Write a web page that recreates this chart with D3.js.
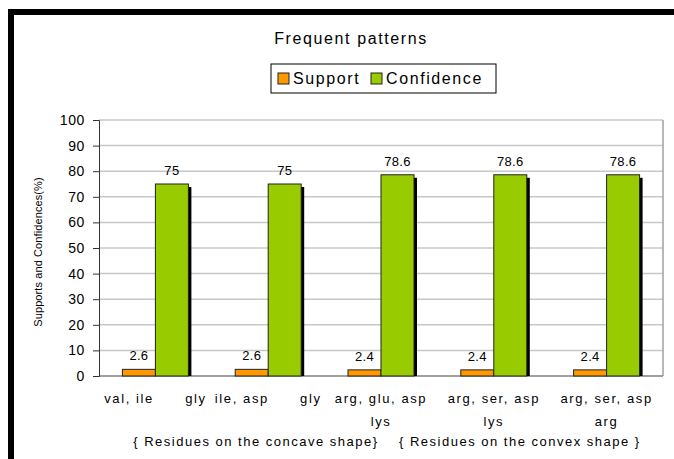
<!DOCTYPE html>
<html>
<head>
<meta charset="utf-8">
<script src="https://cdn.jsdelivr.net/npm/d3@7"></script>
<style>
  html, body { margin: 0; padding: 0; background: #fff; }
  svg text { font-family: "Liberation Sans", Arial, sans-serif; fill: #000; }
</style>
</head>
<body>
<svg id="chart" width="674" height="459"></svg>
<script>
// Frequent residue patterns: support and confidence per rule
const categories = ["p1", "p2", "p3", "p4", "p5"];
const categoryLabels = [
  ["val, ile      gly"],
  ["ile, asp      gly"],
  ["arg, glu, asp", "lys"],
  ["arg, ser, asp", "lys"],
  ["arg, ser, asp", "arg"]
];
const support = [2.6, 2.6, 2.4, 2.4, 2.4];
const confidence = [75, 75, 78.6, 78.6, 78.6];
const seriesNames = ["Support", "Confidence"];
const seriesColors = ["#FF9900", "#99CC00"];
const yTicks = [0, 10, 20, 30, 40, 50, 60, 70, 80, 90, 100];
const chartTitle = "Frequent patterns";
const yTitle = "Supports and Confidences(%)";
const xTitle = "{ Residues on the concave shape}    { Residues on the convex shape }";

const svg = d3.select("#chart");
const plot = { left: 99, right: 663, top: 120, bottom: 376 };

// outer frame (top and left edges)
svg.append("rect").attr("x", 8).attr("y", 9).attr("width", 674 - 8).attr("height", 6).attr("fill", "#000");
svg.append("rect").attr("x", 8).attr("y", 9).attr("width", 6).attr("height", 459 - 9).attr("fill", "#000");

const y = d3.scaleLinear().domain([0, 100]).range([plot.bottom, plot.top]);
const x = d3.scaleBand().domain(categories).range([plot.left, plot.right])
  .paddingInner(0.415).paddingOuter(0.2075);
const xs = d3.scaleBand().domain(seriesNames).range([0, x.bandwidth()]);

// gridlines
svg.append("g").selectAll("line").data(yTicks.filter(d => d > 0)).join("line")
  .attr("x1", plot.left).attr("x2", plot.right)
  .attr("y1", d => y(d)).attr("y2", d => y(d))
  .attr("stroke", "#c8c8c8").attr("stroke-width", 1.5);

// right border and baseline of plot area
svg.append("line").attr("x1", plot.right).attr("x2", plot.right)
  .attr("y1", plot.top).attr("y2", plot.bottom).attr("stroke", "#a0a0a0").attr("stroke-width", 1.5);
svg.append("line").attr("x1", plot.left).attr("x2", plot.right)
  .attr("y1", plot.bottom).attr("y2", plot.bottom).attr("stroke", "#808080").attr("stroke-width", 1.5);

// y axis
const yAxis = d3.axisLeft(y).tickValues(yTicks).tickSize(6).tickPadding(8);
const yg = svg.append("g").attr("transform", `translate(${plot.left},0)`).call(yAxis);
yg.select(".domain").attr("stroke", "#333");
yg.selectAll(".tick line").attr("stroke", "#333");
yg.selectAll(".tick text").attr("font-size", 14).attr("letter-spacing", 0.6)
  .style("font-family", '"Liberation Sans", Arial, sans-serif').attr("fill", "#000");

// bars
const rows = categories.map((c, i) => ({ c, i, vals: [support[i], confidence[i]] }));
const groups = svg.append("g").selectAll("g").data(rows).join("g")
  .attr("transform", d => `translate(${x(d.c)},0)`);

seriesNames.forEach((s, k) => {
  // drop shadow
  groups.append("rect")
    .attr("x", xs(s) + 3).attr("y", d => y(d.vals[k]) + 3)
    .attr("width", xs.bandwidth())
    .attr("height", d => Math.max(0, plot.bottom - y(d.vals[k]) - 3))
    .attr("fill", "#000");
});
seriesNames.forEach((s, k) => {
  groups.append("rect")
    .attr("x", xs(s)).attr("y", d => y(d.vals[k]))
    .attr("width", xs.bandwidth())
    .attr("height", d => plot.bottom - y(d.vals[k]))
    .attr("fill", seriesColors[k]).attr("stroke", "#222").attr("stroke-width", 1);
  groups.append("text")
    .attr("x", xs(s) + xs.bandwidth() / 2).attr("y", d => y(d.vals[k]) - 9)
    .attr("text-anchor", "middle").attr("font-size", 13).attr("letter-spacing", 0.3)
    .text(d => d.vals[k]);
});

// category labels
groups.each(function (d) {
  const g = d3.select(this);
  categoryLabels[d.i].forEach((line, j) => {
    g.append("text")
      .attr("x", x.bandwidth() / 2).attr("y", 403 + j * 23)
      .attr("text-anchor", "middle").attr("font-size", 13).attr("letter-spacing", 1.6)
      .style("white-space", "pre")
      .text(line);
  });
});

// axis titles
svg.append("text").attr("x", 387).attr("y", 446).attr("text-anchor", "middle")
  .attr("font-size", 13).attr("letter-spacing", 1.5).style("white-space", "pre").text(xTitle);
svg.append("text").attr("transform", `translate(42,${(plot.top + plot.bottom) / 2 + 4}) rotate(-90)`)
  .attr("text-anchor", "middle").attr("font-size", 11).attr("letter-spacing", 0.1).text(yTitle);

// title
svg.append("text").attr("x", 351).attr("y", 44).attr("text-anchor", "middle")
  .attr("font-size", 16).attr("letter-spacing", 1.6).text(chartTitle);

// legend
const lg = svg.append("g");
lg.append("rect").attr("x", 271).attr("y", 64).attr("width", 225).attr("height", 29)
  .attr("fill", "#fff").attr("stroke", "#000").attr("stroke-width", 1);
const legendX = [278, 371];
seriesNames.forEach((s, k) => {
  lg.append("rect").attr("x", legendX[k]).attr("y", 73).attr("width", 11).attr("height", 11)
    .attr("fill", seriesColors[k]).attr("stroke", "#222").attr("stroke-width", 1);
  lg.append("text").attr("x", legendX[k] + 15).attr("y", 84).attr("font-size", 16)
    .attr("letter-spacing", 1.6).text(s);
});
</script>
</body>
</html>
